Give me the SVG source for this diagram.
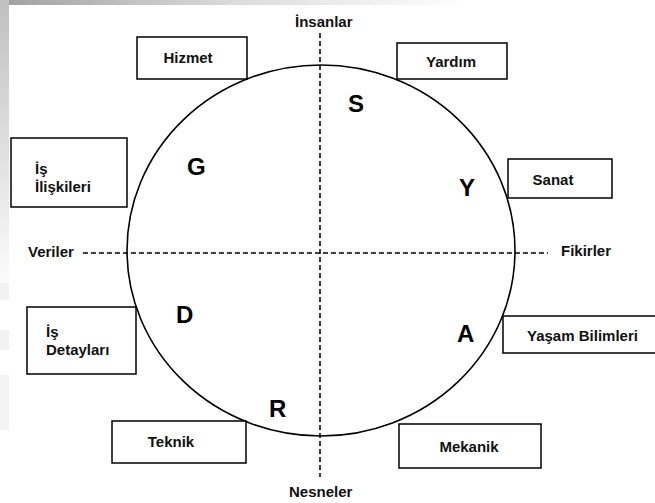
<svg xmlns="http://www.w3.org/2000/svg" width="655" height="503" viewBox="0 0 655 503">
  <defs>
    <linearGradient id="topfade" x1="0" y1="0" x2="1" y2="0">
      <stop offset="0" stop-color="#a0a0a0"/>
      <stop offset="0.5" stop-color="#dcdcdc"/>
      <stop offset="1" stop-color="#ffffff"/>
    </linearGradient>
    <linearGradient id="leftfade" x1="0" y1="0" x2="0" y2="1">
      <stop offset="0" stop-color="#c0c0c0"/>
      <stop offset="1" stop-color="#ffffff"/>
    </linearGradient>
    <style>
      .box { fill: #ffffff; stroke: #000000; stroke-width: 1.5; }
      .lbl { font-family: "Liberation Sans", Arial, sans-serif; font-weight: bold; font-size: 15px; fill: #111111; }
      .mid { text-anchor: middle; }
      .big { font-family: "Liberation Sans", Arial, sans-serif; font-weight: bold; font-size: 24px; fill: #000000; }
      .axis { stroke: #000000; stroke-width: 1.5; stroke-dasharray: 5 3; fill: none; }
      .ring { fill: none; stroke: #000000; stroke-width: 1.6; }
    </style>
  </defs>

  <rect x="0" y="0" width="655" height="503" fill="#ffffff"/>
  <g id="background">
    <rect x="0" y="0" width="470" height="5" fill="url(#topfade)"/>
    <rect x="0" y="0" width="9" height="300" fill="url(#leftfade)"/>
    <rect x="0" y="283" width="9" height="17" fill="#f2f2f2"/>
    <rect x="0" y="330" width="9" height="20" fill="#f2f2f2"/>
    <rect x="0" y="375" width="9" height="55" fill="#f4f4f4"/>
  </g>

  <g id="connectors">
    <ellipse class="ring" cx="321" cy="250.5" rx="194" ry="185.5"/>
    <line class="axis" x1="320" y1="33" x2="320" y2="477"/>
    <line class="axis" x1="83" y1="253" x2="548" y2="253"/>
  </g>

  <g id="axis-labels">
    <text class="lbl" x="295" y="27">İnsanlar</text>
    <text class="lbl" x="289" y="497">Nesneler</text>
    <text class="lbl" x="28" y="257">Veriler</text>
    <text class="lbl" x="561" y="256">Fikirler</text>
  </g>

  <g id="letters">
    <text class="big" x="187" y="175">G</text>
    <text class="big" x="348" y="112">S</text>
    <text class="big" x="459" y="196">Y</text>
    <text class="big" x="176" y="323">D</text>
    <text class="big" x="269" y="417">R</text>
    <text class="big" x="457" y="342">A</text>
  </g>

  <g id="node-hizmet">
    <rect class="box" x="137" y="37" width="110" height="42"/>
    <text class="lbl mid" x="188" y="63">Hizmet</text>
  </g>
  <g id="node-yardim">
    <rect class="box" x="397" y="43" width="110" height="36"/>
    <text class="lbl mid" x="451" y="67">Yardım</text>
  </g>
  <g id="node-sanat">
    <rect class="box" x="508" y="159" width="104" height="39"/>
    <text class="lbl mid" x="553" y="185">Sanat</text>
  </g>
  <g id="node-is-iliskileri">
    <rect class="box" x="11" y="138" width="116" height="69"/>
    <text class="lbl" x="35" y="174">İş</text>
    <text class="lbl" x="35" y="192">İlişkileri</text>
  </g>
  <g id="node-is-detaylari">
    <rect class="box" x="27" y="307" width="109" height="67"/>
    <text class="lbl" x="46" y="337">İş</text>
    <text class="lbl" x="46" y="355">Detayları</text>
  </g>
  <g id="node-yasam-bilimleri">
    <rect class="box" x="503" y="316" width="160" height="37"/>
    <text class="lbl" x="527" y="341">Yaşam Bilimleri</text>
  </g>
  <g id="node-teknik">
    <rect class="box" x="112" y="421" width="134" height="42"/>
    <text class="lbl mid" x="171" y="447">Teknik</text>
  </g>
  <g id="node-mekanik">
    <rect class="box" x="399" y="424" width="142" height="44"/>
    <text class="lbl mid" x="469" y="452">Mekanik</text>
  </g>
</svg>
